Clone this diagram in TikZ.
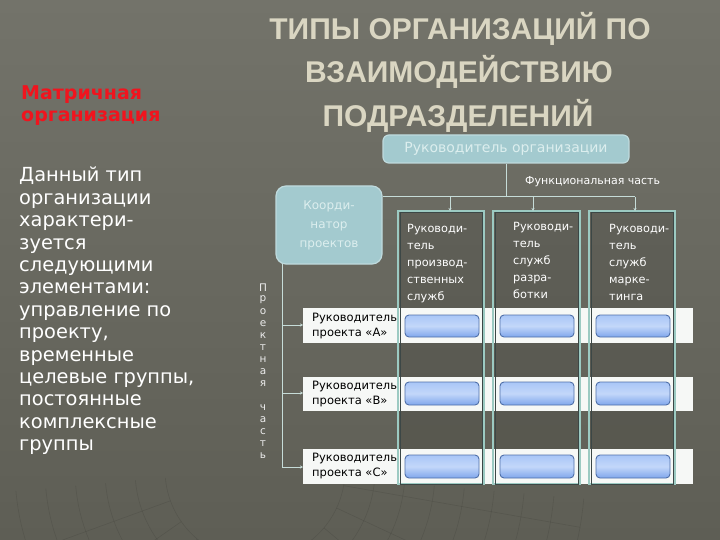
\documentclass[tikz,border=0pt]{standalone}
\usepackage{fontspec}
\setmainfont{DejaVu Sans}
\newfontfamily\titlefont{Liberation Sans}
\usetikzlibrary{arrows.meta}
\definecolor{bgtop}{HTML}{73736A}
\definecolor{bgbot}{HTML}{5E5E55}
\definecolor{titlecol}{HTML}{DAD6C2}
\definecolor{redhead}{HTML}{F0141E}
\definecolor{boxblue}{HTML}{A3CACF}
\definecolor{boxtext}{HTML}{DCEEEE}
\definecolor{linecol}{HTML}{C6DCD8}
\definecolor{colborder}{HTML}{9CCAC2}
\definecolor{coldark}{HTML}{3C4746}
\definecolor{btntop}{HTML}{A9C6F7}
\definecolor{btnbot}{HTML}{7FA6EC}
\definecolor{btnedge}{HTML}{4F6FA8}
\definecolor{bandcol}{HTML}{F6F8F6}
\tikzset{
  titletext/.style={font=\titlefont\bfseries\fontsize{30}{30}\selectfont, text=titlecol, inner sep=0pt, anchor=base},
  bluebox/.style={draw=boxblue!70!white, line width=1.2pt, fill=boxblue, rounded corners=6pt, text=boxtext, align=center},
  coltext/.style={font=\fontsize{11.3}{17}\selectfont, text=white, align=left, anchor=north west, inner sep=0pt},
  rowtext/.style={font=\fontsize{11.5}{15}\selectfont, text=black, align=left, anchor=west, inner sep=0pt},
  conn/.style={draw=linecol, line width=1pt},
  connarrow/.style={conn, -{Stealth[length=3pt,width=3pt]}},
  band/.style={fill=bandcol, draw=none},
  colfill/.style={fill=black, fill opacity=0.10, draw=none},
  colouter/.style={draw=colborder, line width=2.6pt},
  colinner/.style={draw=coldark, line width=1pt},
  btn/.style={draw=btnedge, line width=0.9pt, rounded corners=4pt, top color=btntop, bottom color=btnbot, middle color=btntop!70!white},
  gridline/.style={draw=black, line width=0.6pt, opacity=0.09}
}
\begin{document}
\begin{tikzpicture}[x=1pt,y=-1pt]
\useasboundingbox (0,0) rectangle (720,540);
% background
\shade[top color=bgtop, bottom color=bgbot] (0,0) rectangle (720,540);
% faint background grid
\begin{scope}
\clip (0,0) rectangle (720,540);
\foreach \r in {90,120,...,330} {
  \draw[gridline] (255,470) ++(175:\r) arc[start angle=175, end angle=5, radius=\r];
}
\foreach \a in {10,25,...,170} {
  \draw[gridline] (255,470) ++(\a:90) -- ++(\a:240);
}
\end{scope}
% title
\node[titletext] (t1) at (460,40) {ТИПЫ ОРГАНИЗАЦИЙ ПО};
\node[titletext] (t2) at (459,83) {ВЗАИМОДЕЙСТВИЮ};
\node[titletext] (t3) at (458,127) {ПОДРАЗДЕЛЕНИЙ};
% left heading and text
\node[anchor=north west, inner sep=0pt, align=left, text=redhead,
      font=\bfseries\fontsize{19}{22}\selectfont] (head) at (21,85) {Матричная\\организация};
\node[anchor=north west, inner sep=0pt, align=left, text=white,
      font=\fontsize{19.4}{22.4}\selectfont] (body) at (19,167)
  {Данный тип\\организации\\характери-\\зуется\\следующими\\элементами:\\управление по\\проекту,\\временные\\целевые группы,\\постоянные\\комплексные\\группы};
% columns fill
\fill[colfill] (398,211) rectangle (484,484);
\fill[colfill] (493,211) rectangle (580,484);
\fill[colfill] (589,211) rectangle (675,484);
% bands
\fill[band] (303,308) rectangle (693,343);
\fill[band] (303,377) rectangle (693,411);
\fill[band] (303,449) rectangle (693,484);
% column borders
\foreach \xa/\xb in {398/484, 493/580, 589/675} {
  \draw[colouter] (\xa,211) rectangle (\xb,484);
  \draw[colinner] (\xa+2,213) rectangle (\xb-2,484);
}
% column anchors for connectors
\coordinate (c1) at (450,211);
\coordinate (c2) at (533,211);
\coordinate (c3) at (635,211);
% column texts
\node[coltext] (ct1) at (407,224) {Руководи-\\тель\\производ-\\ственных\\служб};
\node[coltext] (ct2) at (513,222) {Руководи-\\тель\\служб\\разра-\\ботки};
\node[coltext] (ct3) at (609,224) {Руководи-\\тель\\служб\\марке-\\тинга};
% buttons
\foreach \ya/\yb in {315/337, 382/405, 455/478} {
  \draw[btn] (405,\ya) rectangle (479,\yb);
  \draw[btn] (500,\ya) rectangle (574,\yb);
  \draw[btn] (596,\ya) rectangle (670,\yb);
}
% row texts
\node[rowtext] (ra) at (312,326) {Руководитель\\проекта «А»};
\node[rowtext] (rb) at (312,394) {Руководитель\\проекта «В»};
\node[rowtext] (rc) at (312,466) {Руководитель\\проекта «С»};
% head box
\node[bluebox, minimum width=246pt, minimum height=28pt, font=\fontsize{14}{14}\selectfont] (boss) at (506,149) {Руководитель организации};
% functional label
\node[font=\fontsize{11}{11}\selectfont, text=white, anchor=west, inner sep=0pt] (func) at (525,182) {Функциональная часть};
% coordinator box
\node[bluebox, minimum width=106pt, minimum height=78pt, rounded corners=10pt, font=\fontsize{12}{19}\selectfont] (coord) at (329,225) {Коорди-\\натор\\проектов};
% functional connectors
\coordinate (hj) at (506,197);
\coordinate (hl) at (383,197);
\coordinate (hr) at (635,197);
\draw[conn] (boss.south) -- (hj);
\draw[conn] (hl) -- (hr);
\draw[connarrow] (450,197) -- (c1);
\draw[connarrow] (533,197) -- (c2);
\draw[connarrow] (hr) -- (c3);
% project connectors
\coordinate (pv) at (282,264);
\coordinate (pA) at (303,325);
\coordinate (pB) at (303,393);
\coordinate (pC) at (303,467);
\draw[conn] (pv) -- (282,467);
\draw[connarrow] (282,325) -- (pA);
\draw[connarrow] (282,393) -- (pB);
\draw[connarrow] (282,467) -- (pC);
% vertical text
\foreach \ch [count=\i from 0] in {П,р,о,е,к,т,н,а,я,{},ч,а,с,т,ь} {
  \node[font=\fontsize{10.5}{10.5}\selectfont, text=white!92!black, inner sep=0pt] at (263,288+12*\i) {\ch};
}
\end{tikzpicture}
\end{document}
